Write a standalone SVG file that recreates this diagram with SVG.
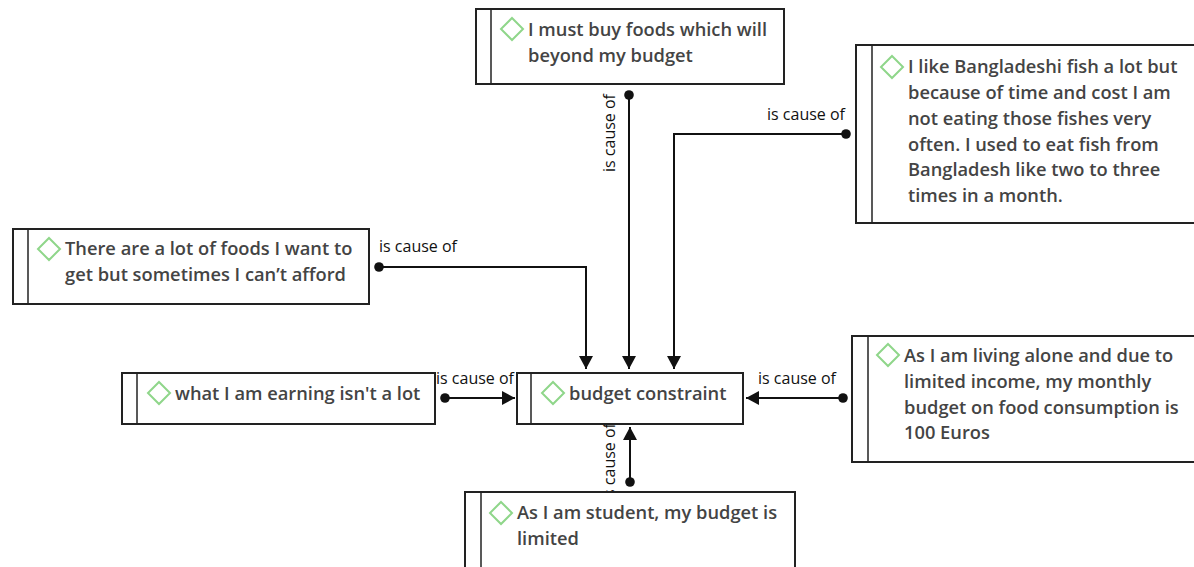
<svg xmlns="http://www.w3.org/2000/svg" width="1194" height="567" viewBox="0 0 1194 567">
<style>
.box{fill:#fff;stroke:#222;stroke-width:2}
.div{stroke:#222;stroke-width:1.5}
.dia{fill:none;stroke:#8fd68a;stroke-width:2}
.t{font-family:"Open Sans","Noto Sans",sans-serif;font-size:18.3px;font-weight:600;fill:#444}
.lbl{font-family:"Open Sans","Noto Sans",sans-serif;font-size:16px;fill:#111}
.c{fill:none;stroke:#111;stroke-width:2}
</style>
<defs>
<marker id="dot" markerWidth="10" markerHeight="10" refX="5" refY="5" markerUnits="userSpaceOnUse"><circle cx="5" cy="5" r="4.8" fill="#111"/></marker>
<marker id="arr" markerWidth="14" markerHeight="14" refX="13" refY="7" orient="auto" markerUnits="userSpaceOnUse"><path d="M0,0 L13,7 L0,14 Z" fill="#111"/></marker>
<path id="d" d="M0,-11 L11,0 L0,11 L-11,0 Z"/>
</defs>
<g id="connectors">
<path class="c" d="M629,95 V369" marker-start="url(#dot)" marker-end="url(#arr)"/>
<path class="c" d="M846,134 H674 V369" marker-start="url(#dot)" marker-end="url(#arr)"/>
<path class="c" d="M379,267 H586 V369" marker-start="url(#dot)" marker-end="url(#arr)"/>
<path class="c" d="M445,398 H515" marker-start="url(#dot)" marker-end="url(#arr)"/>
<path class="c" d="M843,398 H746" marker-start="url(#dot)" marker-end="url(#arr)"/>
<path class="c" d="M630,482 V427" marker-start="url(#dot)" marker-end="url(#arr)"/>
<text class="lbl" transform="translate(615,133) rotate(-90)" text-anchor="middle">is cause of</text>
<text class="lbl" x="845" y="120" text-anchor="end">is cause of</text>
<text class="lbl" x="379" y="252">is cause of</text>
<text class="lbl" x="475" y="384" text-anchor="middle">is cause of</text>
<text class="lbl" x="797" y="384" text-anchor="middle">is cause of</text>
<text class="lbl" transform="translate(615,462) rotate(-90)" text-anchor="middle">is cause of</text>
</g>
<g id="n1">
<rect class="box" x="476" y="9" width="308" height="75"/>
<line class="div" x1="491" y1="9" x2="491" y2="84"/>
<use href="#d" class="dia" x="512" y="29"/>
<text class="t" x="528" y="36">I must buy foods which will</text>
<text class="t" x="528" y="62">beyond my budget</text>
</g>
<g id="n2">
<rect class="box" x="856" y="45" width="340" height="178"/>
<line class="div" x1="872" y1="45" x2="872" y2="223"/>
<use href="#d" class="dia" x="892" y="67"/>
<text class="t" x="908" y="73">I like Bangladeshi fish a lot but</text>
<text class="t" x="908" y="99">because of time and cost I am</text>
<text class="t" x="908" y="125">not eating those fishes very</text>
<text class="t" x="908" y="151">often. I used to eat fish from</text>
<text class="t" x="908" y="176">Bangladesh like two to three</text>
<text class="t" x="908" y="202">times in a month.</text>
</g>
<g id="n3">
<rect class="box" x="13" y="229" width="356" height="75"/>
<line class="div" x1="28" y1="229" x2="28" y2="304"/>
<use href="#d" class="dia" x="49" y="249"/>
<text class="t" x="65" y="255">There are a lot of foods I want to</text>
<text class="t" x="65" y="281">get but sometimes I can’t afford</text>
</g>
<g id="n4">
<rect class="box" x="122" y="373" width="313" height="51"/>
<line class="div" x1="137" y1="373" x2="137" y2="424"/>
<use href="#d" class="dia" x="159" y="393"/>
<text class="t" x="175" y="400">what I am earning isn't a lot</text>
</g>
<g id="center">
<rect class="box" x="517" y="373" width="226" height="51"/>
<line class="div" x1="531" y1="373" x2="531" y2="424"/>
<use href="#d" class="dia" x="553" y="393"/>
<text class="t" x="569" y="400">budget constraint</text>
</g>
<g id="n6">
<rect class="box" x="852" y="336" width="344" height="126"/>
<line class="div" x1="868" y1="336" x2="868" y2="462"/>
<use href="#d" class="dia" x="888" y="355"/>
<text class="t" x="904" y="362">As I am living alone and due to</text>
<text class="t" x="904" y="388">limited income, my monthly</text>
<text class="t" x="904" y="414">budget on food consumption is</text>
<text class="t" x="904" y="439">100 Euros</text>
</g>
<g id="n7">
<rect class="box" x="465" y="492" width="330" height="90"/>
<line class="div" x1="481" y1="492" x2="481" y2="582"/>
<use href="#d" class="dia" x="501" y="513"/>
<text class="t" x="517" y="519">As I am student, my budget is</text>
<text class="t" x="517" y="545">limited</text>
</g>
</svg>
